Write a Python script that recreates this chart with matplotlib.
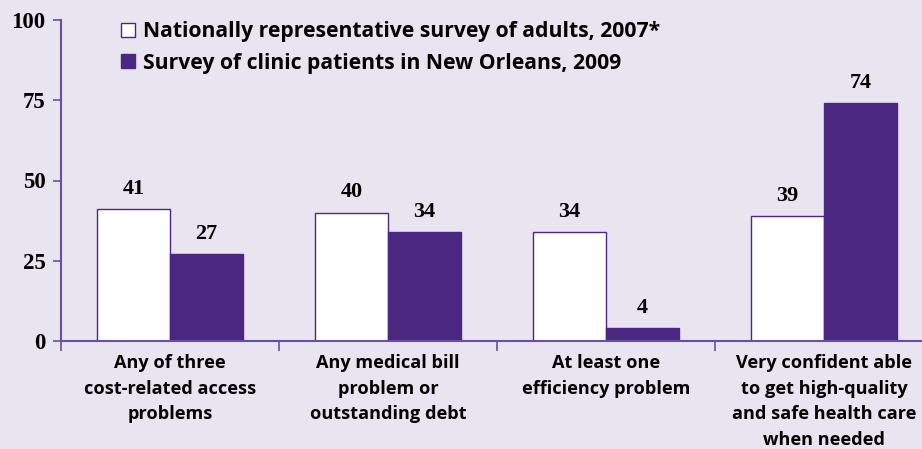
import numpy as np
import matplotlib
matplotlib.use("Agg")
import matplotlib.pyplot as plt
from matplotlib.lines import Line2D

categories = ["Any of three\ncost-related access\nproblems",
              "Any medical bill\nproblem or\noutstanding debt",
              "At least one\nefficiency problem",
              "Very confident able\nto get high-quality\nand safe health care\nwhen needed"]
national = [41, 40, 34, 39]
clinic = [27, 34, 4, 74]
series_names = ["Nationally representative survey of adults, 2007*",
                "Survey of clinic patients in New Orleans, 2009"]
yticks = [0, 25, 50, 75, 100]

bg = "#E8E4F0"
purple = "#4A2882"
axcol = "#6B4E9E"
sans = "Open Sans"
serif = "Liberation Serif"

fig = plt.figure(figsize=(9.22, 4.49), dpi=100, facecolor=bg)
# axis runs off the right edge like the original
ax = fig.add_axes([61/922, 1-341/449, (933-61)/922, (341-20)/449])
ax.set_facecolor(bg)

x = np.arange(len(categories))
w = 0.335
ax.bar(x - w/2, national, w, color="white", edgecolor=purple, linewidth=1.0)
ax.bar(x + w/2, clinic, w, color=purple, edgecolor=purple, linewidth=1.0)

for xi, v in zip(x - w/2, national):
    ax.text(xi, v + 3.2, str(v), ha="center", va="bottom", fontsize=16,
            fontweight="bold", family=serif)
for xi, v in zip(x + w/2, clinic):
    ax.text(xi, v + 3.2, str(v), ha="center", va="bottom", fontsize=16,
            fontweight="bold", family=serif)

ax.set_xlim(-0.5, 3.5)
ax.set_ylim(0, 100)
ax.set_yticks(yticks)
ax.set_yticklabels([str(t) for t in yticks], fontsize=16.5, fontweight="bold",
                   family=serif)
ax.tick_params(axis="y", length=6, width=1.2, color=axcol, pad=5)
ax.set_xticks(np.arange(-0.5, 4.0, 1.0))
ax.set_xticklabels([])
ax.tick_params(axis="x", length=7, width=1.2, color=axcol, direction="out")

for xi, lab in zip(x, categories):
    ax.text(xi, -4.0, lab, ha="center", va="top", fontsize=13.1,
            fontweight="bold", family=sans, linespacing=1.55,
            transform=ax.transData, clip_on=False)

for s in ["top", "right"]:
    ax.spines[s].set_visible(False)
for s in ["left", "bottom"]:
    ax.spines[s].set_color(axcol)
    ax.spines[s].set_linewidth(1.5)

handles = [Line2D([], [], marker="s", linestyle="none", markersize=9.5,
                  markerfacecolor="white", markeredgecolor=purple, markeredgewidth=1.0),
           Line2D([], [], marker="s", linestyle="none", markersize=9.5,
                  markerfacecolor=purple, markeredgecolor=purple)]
fig.legend(handles, series_names, loc="upper left",
           bbox_to_anchor=(118/922, 1-21/449), frameon=False,
           prop={"family": sans, "weight": "bold", "size": 15.2},
           handletextpad=0.3, labelspacing=0.5, handlelength=0.9,
           borderaxespad=0, borderpad=0)

fig.savefig("out.png", dpi=100, facecolor=bg)
